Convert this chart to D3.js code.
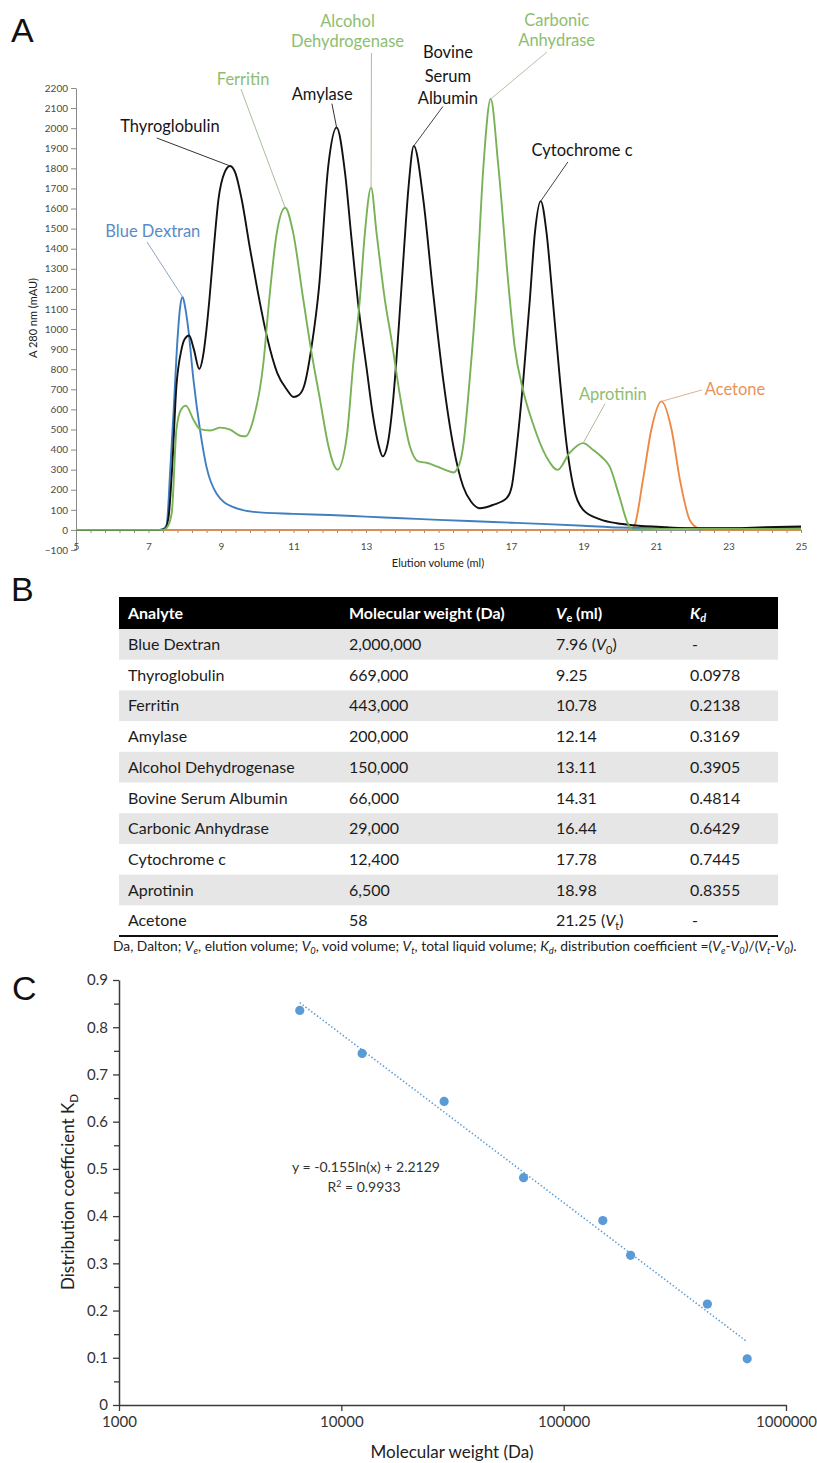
<!DOCTYPE html>
<html>
<head>
<meta charset="utf-8">
<script src="https://cdn.jsdelivr.net/npm/d3@7"></script>
<style>
  html, body { margin: 0; padding: 0; background: #fff; }
  svg { display: block; }
</style>
</head>
<body>
<div id="chart"></div>
<script>
// ---- Panel A: chromatograms (elution volume in ml, absorbance in mAU) ----
const blueDextranMl = [5, 7.3, 7.41, 7.5, 7.6, 7.69, 7.8, 7.88, 7.94, 8.0, 8.1, 8.24, 8.42, 8.6, 8.88, 9.34, 9.9, 11, 12, 13, 14, 15, 16, 17, 18, 19, 20, 21, 22, 23, 24, 25];
const blueDextranMau = [0, 0, 5, 25, 300, 582, 950, 1120, 1160, 1120, 997, 748, 499, 314, 180, 113, 90, 80, 74, 66, 58, 50, 43, 36, 29, 21, 12, 8, 8, 9, 10, 12];

// thyroglobulin, amylase, BSA, cytochrome c
const mixOneMl = [5, 7.3, 7.45, 7.55, 7.65, 7.77, 7.9, 8.0, 8.12, 8.25, 8.4, 8.5, 8.6, 8.68, 8.8, 8.93, 9.1, 9.25, 9.4, 9.57, 9.8, 10.0, 10.27, 10.55, 10.82, 11.0, 11.15, 11.29, 11.5, 11.7, 11.96, 12.19, 12.42, 12.6, 12.8, 13.02, 13.2, 13.35, 13.46, 13.6, 13.75, 13.9, 14.05, 14.17, 14.32, 14.58, 14.84, 15.13, 15.41, 15.68, 15.9, 16.14, 16.51, 16.88, 17.02, 17.16, 17.34, 17.52, 17.66, 17.82, 17.98, 18.15, 18.35, 18.54, 18.72, 18.99, 19.46, 19.92, 20.37, 21.3, 22.2, 23.1, 24, 25];
const mixOneMau = [0, 0, 5, 60, 300, 715, 890, 950, 968, 900, 801, 860, 1000, 1147, 1400, 1646, 1780, 1812, 1775, 1646, 1400, 1200, 960, 782, 698, 662, 672, 715, 914, 1200, 1813, 2003, 1780, 1450, 1100, 800, 560, 420, 366, 430, 650, 1000, 1400, 1700, 1912, 1646, 1200, 748, 416, 216, 140, 108, 125, 158, 216, 416, 748, 1147, 1480, 1637, 1480, 1150, 748, 416, 216, 100, 53, 33, 23, 13, 8, 8, 13, 17];

// ferritin, alcohol dehydrogenase, carbonic anhydrase, aprotinin
const mixTwoMl = [5, 7.4, 7.5, 7.64, 7.77, 7.9, 8.03, 8.24, 8.42, 8.7, 8.98, 9.25, 9.53, 9.67, 9.89, 10.17, 10.33, 10.54, 10.77, 10.99, 11.27, 11.5, 11.73, 11.96, 12.1, 12.21, 12.47, 12.65, 12.83, 12.97, 13.14, 13.29, 13.52, 13.7, 13.94, 14.21, 14.44, 14.7, 14.95, 15.2, 15.41, 15.58, 15.68, 15.86, 16.05, 16.24, 16.44, 16.65, 16.94, 17.1, 17.33, 17.6, 17.97, 18.29, 18.61, 18.99, 19.26, 19.53, 19.72, 19.99, 20.22, 20.37, 20.6, 21, 22, 23, 24, 25];
const mixTwoMau = [0, 0, 10, 83, 499, 600, 619, 549, 502, 495, 509, 499, 469, 466, 549, 831, 1147, 1480, 1604, 1480, 1147, 880, 650, 420, 330, 300, 466, 831, 1147, 1480, 1704, 1480, 1147, 950, 665, 416, 341, 333, 316, 298, 286, 330, 416, 748, 1200, 1813, 2145, 1813, 1200, 914, 698, 532, 366, 299, 382, 432, 399, 358, 316, 166, 33, 0, 3, 5, 5, 5, 5, 5];

const acetoneMl = [5, 20.3, 20.4, 20.64, 20.87, 21.15, 21.43, 21.66, 21.93, 22.16, 22.35, 25];
const acetoneMau = [0, 0, 17, 249, 499, 640, 499, 249, 50, 8, 0, 0];

const elutionTicks = [5, 7, 9, 11, 13, 15, 17, 19, 21, 23, 25];
const absTicks = [-100, 0, 100, 200, 300, 400, 500, 600, 700, 800, 900, 1000, 1100, 1200, 1300, 1400, 1500, 1600, 1700, 1800, 1900, 2000, 2100, 2200];

// ---- Panel B: table ----
const analytes = ['Blue Dextran', 'Thyroglobulin', 'Ferritin', 'Amylase', 'Alcohol Dehydrogenase', 'Bovine Serum Albumin', 'Carbonic Anhydrase', 'Cytochrome c', 'Aprotinin', 'Acetone'];
const molWeights = [2000000, 669000, 443000, 200000, 150000, 66000, 29000, 12400, 6500, 58];
const elutionVolumes = [7.96, 9.25, 10.78, 12.14, 13.11, 14.31, 16.44, 17.78, 18.98, 21.25];
const volumeMarks = ['0', '', '', '', '', '', '', '', '', 't'];
const kdValues = [null, 0.0978, 0.2138, 0.3169, 0.3905, 0.4814, 0.6429, 0.7445, 0.8355, null];

// ---- Panel C: calibration ----
const mwTicks = [1000, 10000, 100000, 1000000];
const kdTicks = [0, 0.1, 0.2, 0.3, 0.4, 0.5, 0.6, 0.7, 0.8, 0.9];
const trendSlope = -0.155;
const trendIntercept = 2.2129;
const trendR2 = 0.9933;

const FONT = 'Lato, "Open Sans", sans-serif';
const W = 817, H = 1463;

const svg = d3.select('#chart').append('svg')
    .attr('width', W).attr('height', H)
    .style('font-family', FONT);
svg.append('rect').attr('width', W).attr('height', H).attr('fill', '#fff');

// adds italic / subscript pieces into a <text>
function addRich(textSel, parts, fs) {
    let lastSub = false;
    parts.forEach((p) => {
        if (typeof p === 'string') p = { t: p };
        const ts = textSel.append('tspan').text(p.t);
        if (p.it) ts.attr('font-style', 'italic');
        if (p.sub) {
            ts.attr('font-size', fs * 0.68).attr('dy', lastSub ? 0 : fs * 0.22);
        } else if (lastSub) {
            ts.attr('dy', -fs * 0.22);
        }
        lastSub = !!p.sub;
    });
    return textSel;
}

// panel letters
[['A', 11, 42], ['B', 11, 601], ['C', 12, 1000]].forEach(([t, x, y]) => {
    svg.append('text').attr('x', x).attr('y', y).attr('font-size', 34).attr('fill', '#111')
        .style('font-family', '"Liberation Sans", Arial, sans-serif').text(t);
});

/* ---------- Panel A ---------- */
function drawChromatogram() {
    const x = d3.scaleLinear().domain([5, 25]).range([76, 801]);
    const y = d3.scaleLinear().domain([-100, 2200]).range([550, 88]);
    const g = svg.append('g');

    // y axis
    const yAxis = g.append('g').attr('transform', 'translate(76,0)')
        .call(d3.axisLeft(y).tickValues(absTicks).tickSize(5).tickSizeOuter(0).tickPadding(3).tickFormat(d3.format('d')));
    yAxis.select('.domain').attr('stroke', '#8a8a8a');
    yAxis.selectAll('.tick line').attr('stroke', '#8a8a8a');
    yAxis.selectAll('text').attr('font-size', 10).attr('fill', '#4a4a4a').style('font-family', FONT);

    // x axis sits on zero, labels down at the bottom
    const minor = d3.range(5, 25.001, 0.4);
    const xAxis = g.append('g').attr('transform', `translate(0,${y(0)})`)
        .call(d3.axisBottom(x).tickValues(minor).tickSize(3).tickSizeOuter(0).tickFormat(''));
    xAxis.select('.domain').attr('stroke', '#8a8a8a');
    xAxis.selectAll('.tick line').attr('stroke', '#8a8a8a');

    const xLabels = g.append('g').attr('transform', 'translate(0,540)')
        .call(d3.axisBottom(x).tickValues(elutionTicks).tickSize(0).tickPadding(3));
    xLabels.select('.domain').remove();
    xLabels.selectAll('text').attr('font-size', 10).attr('fill', '#4a4a4a').style('font-family', FONT);

    g.append('text').attr('x', 438).attr('y', 567).attr('text-anchor', 'middle')
        .attr('font-size', 11).attr('fill', '#222').text('Elution volume (ml)');
    g.append('text').attr('transform', 'translate(37,318) rotate(-90)').attr('text-anchor', 'middle')
        .attr('font-size', 11).attr('fill', '#222').text('A 280 nm (mAU)');

    const line = d3.line().x((d) => x(d[0])).y((d) => y(d[1])).curve(d3.curveMonotoneX);
    const traces = [
        { ml: acetoneMl, mau: acetoneMau, color: '#ec8a45' },
        { ml: blueDextranMl, mau: blueDextranMau, color: '#3f7fc1' },
        { ml: mixOneMl, mau: mixOneMau, color: '#111111' },
        { ml: mixTwoMl, mau: mixTwoMau, color: '#78b257' },
    ];
    g.selectAll('.trace').data(traces).join('path')
        .attr('class', 'trace')
        .attr('fill', 'none')
        .attr('stroke', (d) => d.color)
        .attr('stroke-width', 1.9)
        .attr('stroke-linejoin', 'round')
        .attr('d', (d) => line(d3.zip(d.ml, d.mau)));

    // peak callouts, placed in data units: text (tx, ty), leader start (lx, ly), peak (px, py)
    const BLACK = '#151515', GREEN = '#8dbe70', BLUE = '#5a8bc6', ORANGE = '#e8935a';
    const callouts = [
        { lines: ['Blue Dextran'], color: BLUE, lead: '#8fa5bf', tx: 7.12, ty: [1458], lx: 6.96, ly: 1433, px: 7.94, py: 1160 },
        { lines: ['Thyroglobulin'], color: BLACK, lead: '#333', tx: 7.59, ty: [1981], lx: 7.23, ly: 1951, px: 9.25, py: 1812 },
        { lines: ['Ferritin'], color: GREEN, lead: '#a9bd9c', tx: 9.61, ty: [2215], lx: 9.55, ly: 2195, px: 10.77, py: 1604 },
        { lines: ['Amylase'], color: BLACK, lead: '#333', tx: 11.79, ty: [2140], lx: 12.06, ly: 2122, px: 12.19, py: 2003 },
        { lines: ['Alcohol', 'Dehydrogenase'], color: GREEN, lead: '#a9bd9c', tx: 12.49, ty: [2504, 2404], lx: 13.15, ly: 2374, px: 13.14, py: 1704 },
        { lines: ['Bovine', 'Serum', 'Albumin'], color: BLACK, lead: '#444', tx: 15.26, ty: [2349, 2230, 2120], lx: 15.12, ly: 2108, px: 14.32, py: 1912 },
        { lines: ['Carbonic', 'Anhydrase'], color: GREEN, lead: '#b3c2a8', tx: 18.26, ty: [2509, 2409], lx: 17.99, ly: 2379, px: 16.44, py: 2145 },
        { lines: ['Cytochrome c'], color: BLACK, lead: '#444', tx: 18.96, ty: [1861], lx: 18.57, ly: 1832, px: 17.82, py: 1637 },
        { lines: ['Aprotinin'], color: GREEN, lead: '#a9bd9c', tx: 19.81, ty: [647], lx: 19.59, ly: 627, px: 18.99, py: 432 },
        { lines: ['Acetone'], color: ORANGE, lead: '#e0b08e', tx: 23.18, ty: [672], lx: 22.27, ly: 697, px: 21.15, py: 640 },
    ];

    callouts.forEach((c) => {
        g.append('line')
            .attr('x1', x(c.lx)).attr('y1', y(c.ly))
            .attr('x2', x(c.px)).attr('y2', y(c.py))
            .attr('stroke', c.lead).attr('stroke-width', 1);
        c.lines.forEach((t, i) => {
            g.append('text').attr('x', x(c.tx)).attr('y', y(c.ty[i]))
                .attr('text-anchor', 'middle').attr('font-size', 16.5)
                .attr('fill', c.color).text(t);
        });
    });
}

/* ---------- Panel B ---------- */
function drawTable() {
    const left = 119, right = 778, top = 597, headH = 32, rowH = 30.7;
    const colX = [128, 349, 556, 690];
    const fs = 16;
    const g = svg.append('g');

    g.append('rect').attr('x', left).attr('y', top).attr('width', right - left).attr('height', headH).attr('fill', '#000');

    const header = [
        ['Analyte'],
        ['Molecular weight (Da)'],
        [{ t: 'V', it: true }, { t: 'e', sub: true }, ' (ml)'],
        [{ t: 'K', it: true }, { t: 'd', sub: true, it: true }],
    ];
    header.forEach((parts, i) => {
        const t = g.append('text').attr('x', colX[i]).attr('y', top + 21.5)
            .attr('font-size', fs).attr('font-weight', 700).attr('fill', '#fff');
        addRich(t, parts, fs);
    });

    const fmtMw = d3.format(',');
    const fmtVe = d3.format('.2f');
    const fmtKd = d3.format('.4f');

    analytes.forEach((name, r) => {
        const y0 = top + headH + r * rowH;
        if (r % 2 === 0) {
            g.append('rect').attr('x', left).attr('y', y0).attr('width', right - left).attr('height', rowH).attr('fill', '#e6e6e6');
        }
        const ve = [fmtVe(elutionVolumes[r])];
        if (volumeMarks[r]) ve.push(' (', { t: 'V', it: true }, { t: volumeMarks[r], sub: true }, ')');
        const cells = [[name], [fmtMw(molWeights[r])], ve, [kdValues[r] == null ? '-' : fmtKd(kdValues[r])]];
        cells.forEach((parts, i) => {
            const t = g.append('text').attr('x', colX[i] + (i === 3 && kdValues[r] == null ? 2 : 0)).attr('y', y0 + 21)
                .attr('font-size', fs).attr('fill', '#1c1c1c');
            addRich(t, parts, fs);
        });
    });

    const bottom = top + headH + analytes.length * rowH;
    g.append('line').attr('x1', left).attr('x2', right).attr('y1', bottom).attr('y2', bottom)
        .attr('stroke', '#111').attr('stroke-width', 2.2);

    // footnote, sized so it spans about the table width
    const noteParts = [
        'Da, Dalton; ', { t: 'V', it: true }, { t: 'e', sub: true, it: true }, ', elution volume; ',
        { t: 'V', it: true }, { t: '0', sub: true, it: true }, ', void volume; ',
        { t: 'V', it: true }, { t: 't', sub: true, it: true }, ', total liquid volume; ',
        { t: 'K', it: true }, { t: 'd', sub: true, it: true }, ', distribution coefficient =(',
        { t: 'V', it: true }, { t: 'e', sub: true, it: true }, { t: '-' }, { t: 'V', it: true }, { t: '0', sub: true, it: true }, ')/(',
        { t: 'V', it: true }, { t: 't', sub: true, it: true }, { t: '-' }, { t: 'V', it: true }, { t: '0', sub: true, it: true }, ').',
    ];
    let noteFs = 12;
    let note = g.append('text').attr('x', 113).attr('y', bottom + 15).attr('font-size', noteFs).attr('fill', '#222');
    addRich(note, noteParts, noteFs);
    const len = note.node().getComputedTextLength();
    if (len > 10) {
        noteFs = noteFs * 684 / len;
        note.remove();
        note = g.append('text').attr('x', 113).attr('y', bottom + 15).attr('font-size', noteFs).attr('fill', '#222');
        addRich(note, noteParts, noteFs);
    }
}

/* ---------- Panel C ---------- */
function drawCalibration() {
    const x = d3.scaleLog().domain([1000, 1000000]).range([119, 786]);
    const y = d3.scaleLinear().domain([0, 0.9]).range([1405, 980]);
    const g = svg.append('g');

    const yMinor = g.append('g').attr('transform', 'translate(119,0)')
        .call(d3.axisLeft(y).tickValues(d3.range(0.05, 0.9, 0.1)).tickSize(5).tickFormat(''));
    yMinor.select('.domain').remove();
    const yAxis = g.append('g').attr('transform', 'translate(119,0)')
        .call(d3.axisLeft(y).tickValues(kdTicks).tickSize(6).tickSizeOuter(0).tickPadding(5)
            .tickFormat((d) => (d === 0 ? '0' : d3.format('.1f')(d))));
    g.selectAll('.tick line').attr('stroke', '#3a3a3a').attr('stroke-width', 1.3);
    yAxis.select('.domain').attr('stroke', '#3a3a3a').attr('stroke-width', 1.5);
    yAxis.selectAll('text').attr('font-size', 15).attr('fill', '#333').style('font-family', FONT);

    const xAxis = g.append('g').attr('transform', 'translate(0,1405)')
        .call(d3.axisBottom(x).tickValues(mwTicks).tickSize(6).tickSizeOuter(0).tickPadding(5)
            .tickFormat(d3.format('d')));
    xAxis.select('.domain').attr('stroke', '#3a3a3a').attr('stroke-width', 1.5);
    xAxis.selectAll('.tick line').attr('stroke', '#3a3a3a').attr('stroke-width', 1.3);
    xAxis.selectAll('text').attr('font-size', 15).attr('fill', '#333').style('font-family', FONT);

    g.append('text').attr('x', 452).attr('y', 1458).attr('text-anchor', 'middle')
        .attr('font-size', 17).attr('fill', '#222').text('Molecular weight (Da)');
    const yt = g.append('text').attr('transform', 'translate(74,1192) rotate(-90)').attr('text-anchor', 'middle')
        .attr('font-size', 17).attr('fill', '#222');
    addRich(yt, ['Distribution coefficient K', { t: 'D', sub: true }], 17);

    // calibration points = proteins with a Kd
    const pts = molWeights.map((mw, i) => [mw, kdValues[i]]).filter((d) => d[1] != null);

    // log trendline over the range of the standards
    const ext = d3.extent(pts, (d) => d[0]);
    const trend = ext.map((mw) => [mw, trendSlope * Math.log(mw) + trendIntercept]);
    g.append('path')
        .attr('d', d3.line().x((d) => x(d[0])).y((d) => y(d[1]))(trend))
        .attr('fill', 'none').attr('stroke', '#5b9bd5').attr('stroke-width', 1.6)
        .attr('stroke-dasharray', '1.4,2.2');

    g.selectAll('.pt').data(pts).join('circle')
        .attr('class', 'pt')
        .attr('cx', (d) => x(d[0])).attr('cy', (d) => y(d[1]))
        .attr('r', 4.6).attr('fill', '#5b9bd5');

    g.append('text').attr('x', 366).attr('y', 1172).attr('text-anchor', 'middle')
        .attr('font-size', 14).attr('fill', '#333')
        .text(`y = ${trendSlope}ln(x) + ${trendIntercept}`);
    const r2 = g.append('text').attr('x', 364).attr('y', 1192).attr('text-anchor', 'middle')
        .attr('font-size', 14).attr('fill', '#333');
    r2.append('tspan').text('R');
    r2.append('tspan').attr('font-size', 9).attr('dy', -5).text('2');
    r2.append('tspan').attr('dy', 5).text(` = ${trendR2}`);
}

drawChromatogram();
drawTable();
drawCalibration();
</script>
</body>
</html>
